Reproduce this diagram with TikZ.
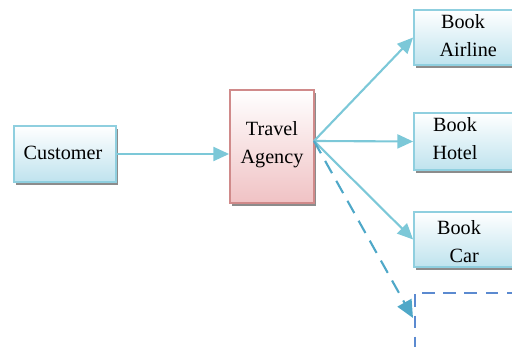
\documentclass[tikz,border=0pt]{standalone}
\usepackage{fontspec}
\setmainfont{Liberation Serif}
\usetikzlibrary{arrows.meta,shadows,positioning}
\definecolor{boxline}{HTML}{8FCFDF}
\definecolor{boxfill}{HTML}{BFE3EE}
\definecolor{agline}{HTML}{D08A8A}
\definecolor{agfill}{HTML}{F0C2C4}
\definecolor{flow}{HTML}{7CC8D8}
\definecolor{dashflow}{HTML}{4FA8C8}
\definecolor{dashbox}{HTML}{5B8AD0}
\tikzset{
  box/.style={draw=boxline, line width=1pt, top color=white, bottom color=boxfill,
    inner sep=0pt, minimum height=56*0.02cm,
    drop shadow={shadow xshift=1.3pt, shadow yshift=-1.6pt, fill=black!45, opacity=1}},
  agbox/.style={box, draw=agline, bottom color=agfill},
  lbl/.style={font=\fontsize{11.5}{16}\selectfont, align=center, inner sep=0pt},
  flowarrow/.style={draw=flow, line width=1.2pt, -{Triangle[length=9pt,width=8pt]}},
}
\begin{document}
\begin{tikzpicture}[x=0.02cm, y=-0.02cm]
  \useasboundingbox (0,0) rectangle (512,347);
  \clip (0,0) rectangle (512,347);

  % Boxes
  \node[box, minimum width=102*0.02cm] (cust) at (65,154) {};
  \node[agbox, minimum width=84*0.02cm, minimum height=113*0.02cm] (ta) at (272,146.5) {};
  \node[box, minimum width=130*0.02cm, minimum height=55*0.02cm] (air) at (479,37.5) {};
  \node[box, minimum width=130*0.02cm, minimum height=57*0.02cm] (hotel) at (479,141.5) {};
  \node[box, minimum width=130*0.02cm, minimum height=55*0.02cm] (car) at (479,239.5) {};
  \draw[dashbox, line width=1.2pt, dash pattern=on 7pt off 5pt]
    (540,293) -- (415,293) -- (415,360);
  \coordinate (extra) at (413,318);

  % Texts
  \node[lbl] (custText) at (63,153) {Customer};
  \node[lbl] (taText) at (272,145) {Travel\\Agency};
  \node[lbl] (airText) at (463,36) {Book\\\hspace*{6pt}Airline};
  \node[lbl] (hotelText) at (455,139) {Book\\Hotel};
  \node[lbl] (carText) at (459,242) {Book\\\hspace*{6pt}Car};

  % Connectors
  \coordinate (fan) at (314,141);
  \draw[flowarrow] (cust.east) -- (ta.west |- cust.east);
  \draw[flowarrow] (fan) -- (air.west);
  \draw[flowarrow] (fan) -- (hotel.west);
  \draw[flowarrow] (fan) -- (car.west);
  \draw[flowarrow, draw=dashflow, dash pattern=on 8pt off 5pt,
    -{Triangle[length=10pt,width=9pt,fill=dashflow]}] (fan) -- (extra);
\end{tikzpicture}
\end{document}
